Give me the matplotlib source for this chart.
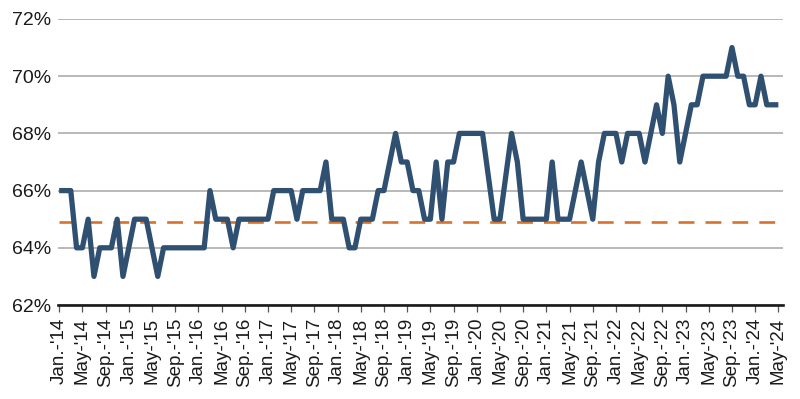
import matplotlib
matplotlib.use("Agg")
import matplotlib.pyplot as plt
from matplotlib import font_manager as fm

# ---- data ----
start_year = 2014
start_month = 1
values = [
    66, 66, 66, 64, 64, 65, 63, 64, 64, 64, 65, 63,   # 2014
    64, 65, 65, 65, 64, 63, 64, 64, 64, 64, 64, 64,   # 2015
    64, 64, 66, 65, 65, 65, 64, 65, 65, 65, 65, 65,   # 2016
    65, 66, 66, 66, 66, 65, 66, 66, 66, 66, 67, 65,   # 2017
    65, 65, 64, 64, 65, 65, 65, 66, 66, 67, 68, 67,   # 2018
    67, 66, 66, 65, 65, 67, 65, 67, 67, 68, 68, 68,   # 2019
    68, 68, 66.5, 65, 65, 66.5, 68, 67, 65, 65, 65, 65,  # 2020
    65, 67, 65, 65, 65, 66, 67, 66, 65, 67, 68, 68,   # 2021
    68, 67, 68, 68, 68, 67, 68, 69, 68, 70, 69, 67,   # 2022
    68, 69, 69, 70, 70, 70, 70, 70, 71, 70, 70, 69,   # 2023
    69, 70, 69, 69, 69,                               # 2024 (Jan-May)
]
benchmark = 64.9
tick_labels = [
    "Jan.-'14", "May-'14", "Sep.-'14", "Jan.-'15", "May-'15", "Sep.-'15",
    "Jan.-'16", "May-'16", "Sep.-'16", "Jan.-'17", "May-'17", "Sep.-'17",
    "Jan.-'18", "May-'18", "Sep.-'18", "Jan.-'19", "May-'19", "Sep.-'19",
    "Jan.-'20", "May-'20", "Sep.-'20", "Jan.-'21", "May-'21", "Sep.-'21",
    "Jan.-'22", "May-'22", "Sep.-'22", "Jan.-'23", "May-'23", "Sep.-'23",
    "Jan.-'24", "May-'24",
]
y_ticks = [62, 64, 66, 68, 70, 72]

# ---- fonts ----
names = {f.name for f in fm.fontManager.ttflist}
main_font = "Liberation Sans" if "Liberation Sans" in names else "DejaVu Sans"
narrow_font = "Liberation Sans Narrow" if "Liberation Sans Narrow" in names else main_font
plt.rcParams["font.family"] = [main_font, "DejaVu Sans"]

fig = plt.figure(figsize=(8.0, 3.99), dpi=100)
ax = fig.add_axes([58 / 800, 1 - 305 / 399, (783 - 58) / 800, (305 - 19) / 399])

x = list(range(len(values)))
ax.plot(x, [benchmark] * len(x), color="#D9722A", lw=1.9,
        dashes=(6.0, 4.2), zorder=2)
ax.plot(x, values, color="#2F5071", lw=3.8, solid_joinstyle="round",
        solid_capstyle="butt", zorder=3)

ax.set_xlim(-0.2, 124.8)
ax.set_ylim(62, 72)
ax.set_yticks(y_ticks)
ax.set_yticklabels([f"{v}%" for v in y_ticks])
ax.yaxis.grid(True, color="#A6A6A6", lw=1.1)
ax.set_axisbelow(True)

ax.set_xticks(list(range(0, len(values), 4)))
ax.set_xticklabels(tick_labels, rotation=90, fontfamily=narrow_font,
                   fontsize=13.5, va="top", ha="center")

for s in ("left", "right", "top"):
    ax.spines[s].set_visible(False)
ax.spines["bottom"].set_color("#1a1a1a")
ax.spines["bottom"].set_linewidth(1.9)
ax.spines["bottom"].set_zorder(4)

ax.tick_params(axis="y", length=0, pad=5, labelsize=14, labelcolor="#1a1a1a")
ax.tick_params(axis="x", direction="out", length=5, width=0.9,
               color="#555555", pad=4, labelcolor="#1a1a1a")

fig.savefig("out.png", dpi=100)
